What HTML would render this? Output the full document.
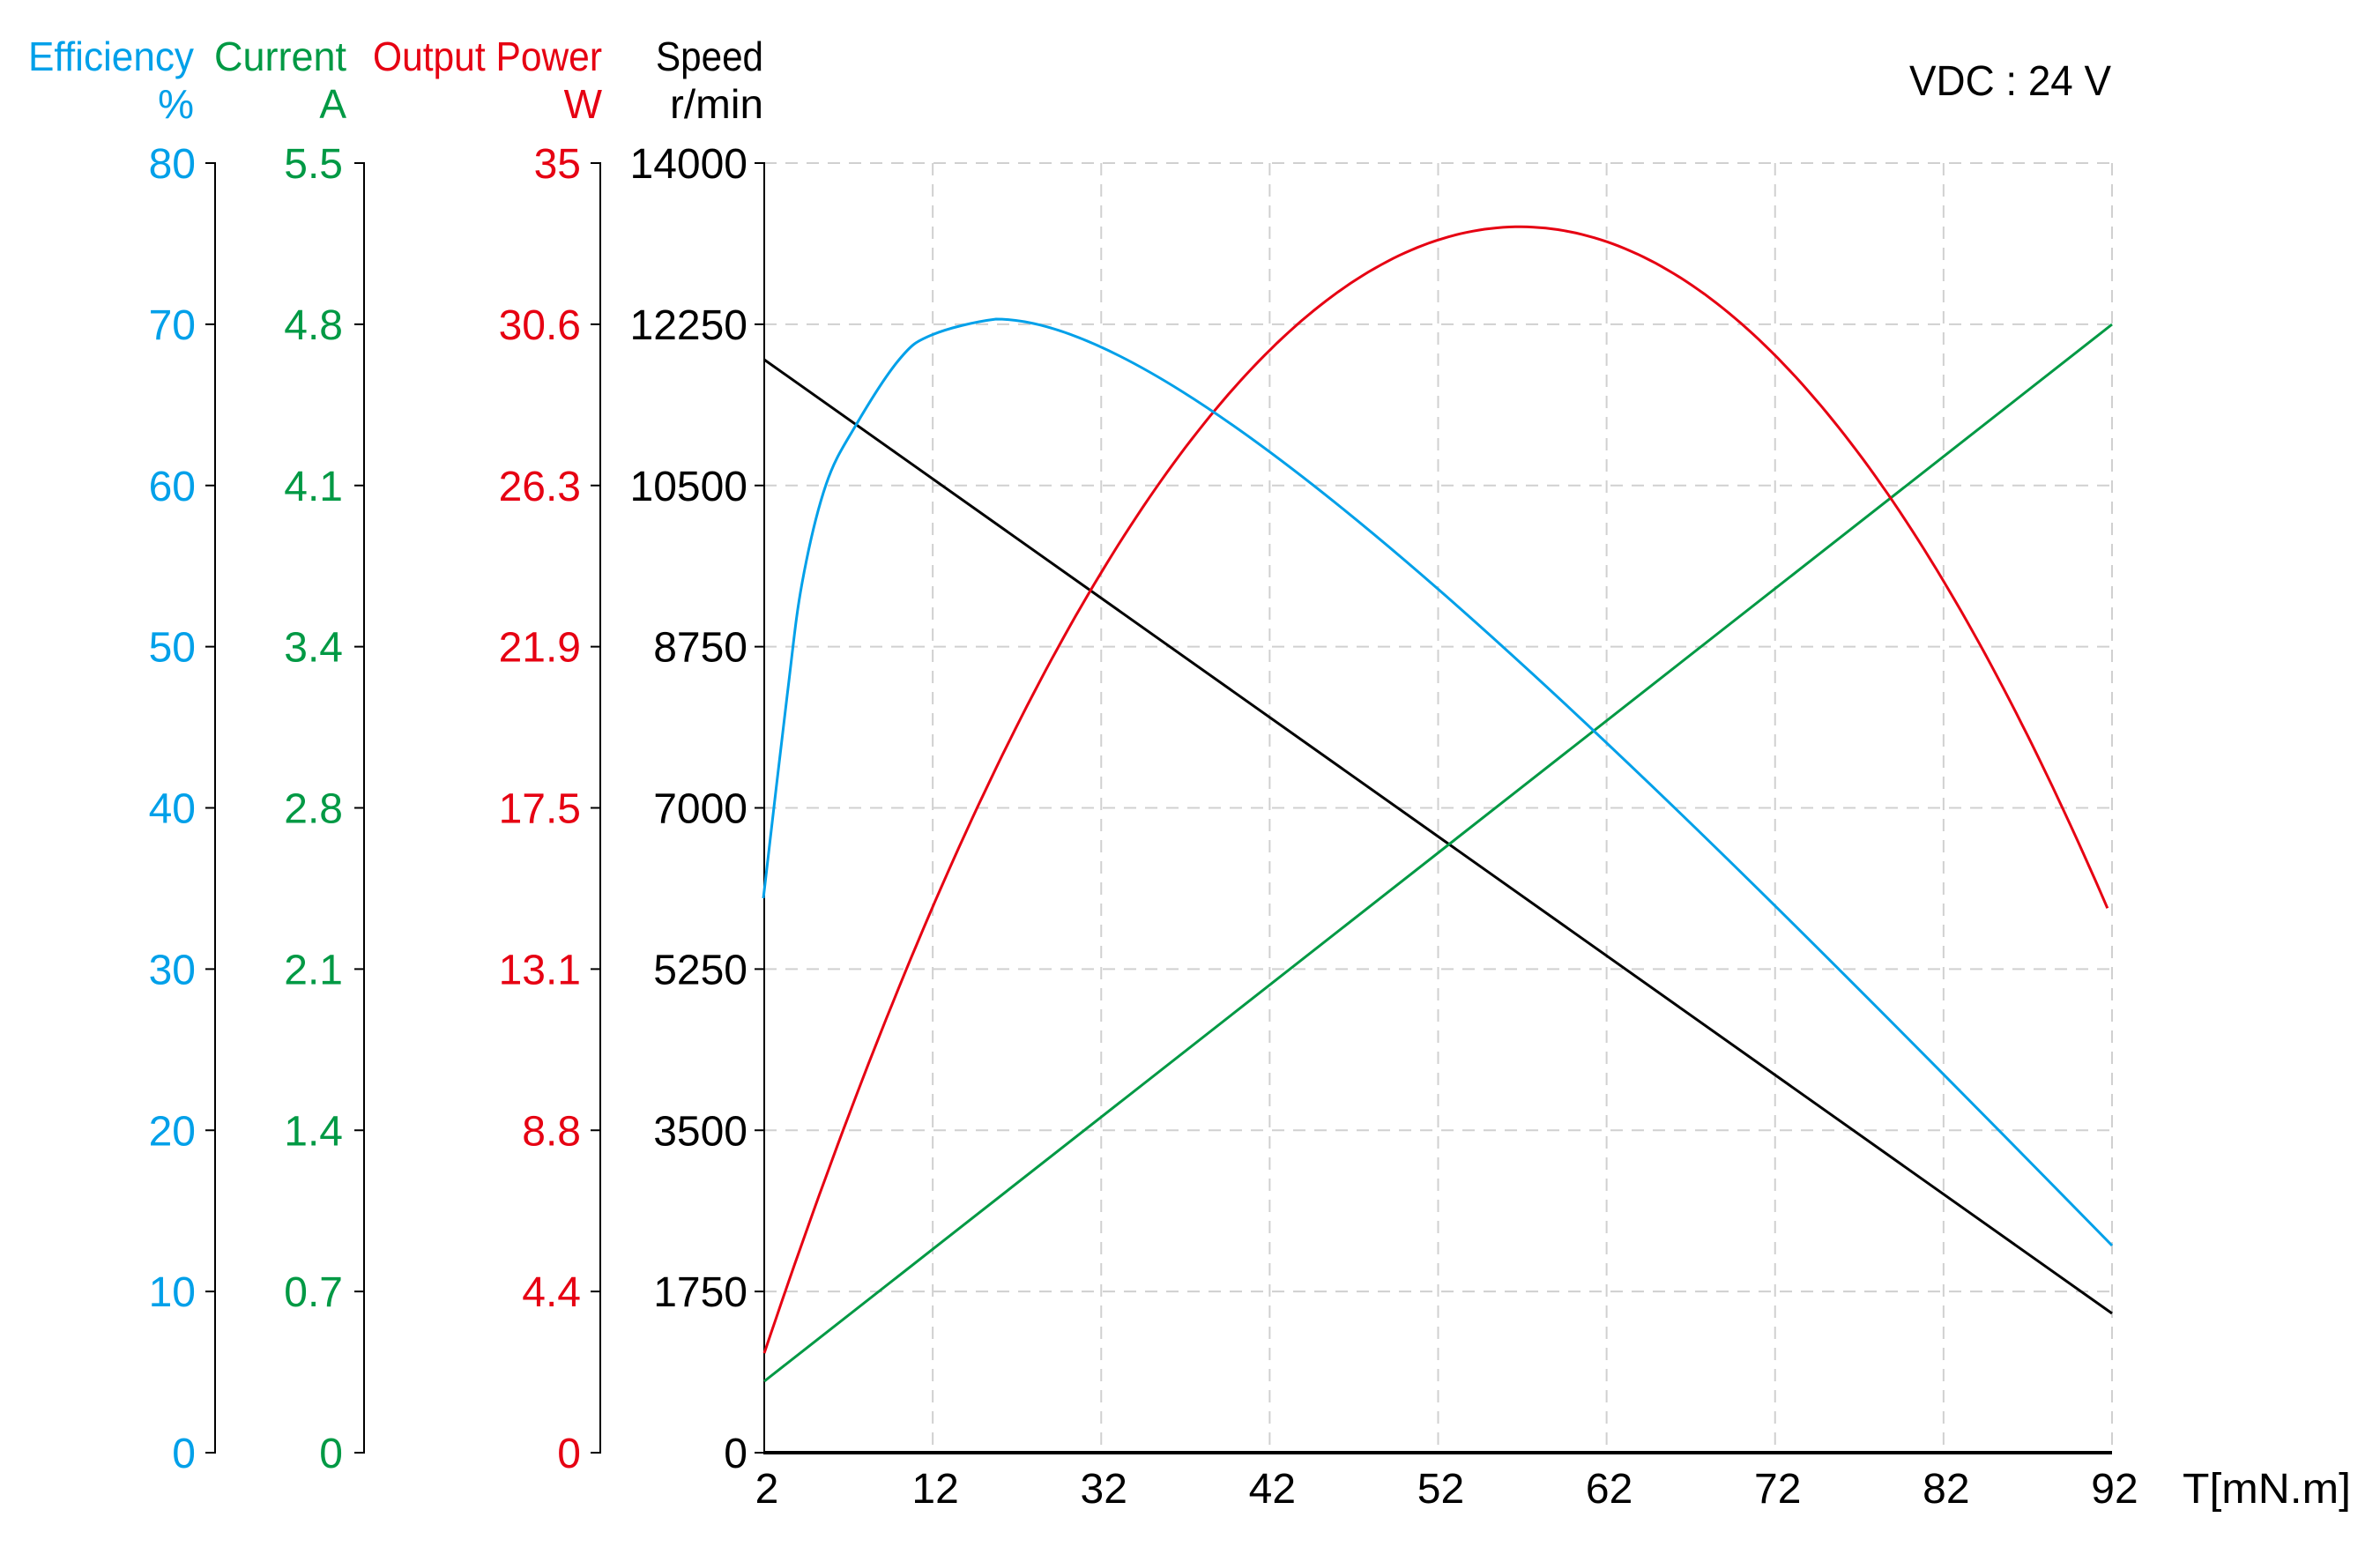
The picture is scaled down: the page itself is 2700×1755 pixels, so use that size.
<!DOCTYPE html>
<html><head><meta charset="utf-8"><style>html,body{margin:0;padding:0;background:#fff}svg{display:block}</style></head>
<body>
<svg id="s" width="2700" height="1755" xmlns="http://www.w3.org/2000/svg" font-family="Liberation Sans, sans-serif">
<g id="grid" stroke="#d0d0d0" stroke-width="2" stroke-dasharray="14,10" fill="none"></g>
<g id="axes" stroke="#000" stroke-width="2" fill="none"></g>
<g id="labels" font-size="48"></g>
<g font-size="46" text-anchor="end">
<text x="220" y="80" fill="#00a0e9" textLength="188" lengthAdjust="spacingAndGlyphs">Efficiency</text>
<text x="220" y="134" fill="#00a0e9">%</text>
<text x="393" y="80" fill="#009944" textLength="150" lengthAdjust="spacingAndGlyphs">Current</text>
<text x="393" y="134" fill="#009944">A</text>
<text x="683" y="80" fill="#e60012" textLength="260" lengthAdjust="spacingAndGlyphs">Output Power</text>
<text x="683" y="134" fill="#e60012">W</text>
<text x="866" y="80" fill="#000" textLength="122" lengthAdjust="spacingAndGlyphs">Speed</text>
<text x="866" y="134" fill="#000" textLength="106" lengthAdjust="spacingAndGlyphs">r/min</text>
</g>
<text x="2166" y="108" font-size="48" textLength="229" lengthAdjust="spacingAndGlyphs">VDC : 24 V</text>
<text x="2476" y="1705" font-size="48" textLength="191" lengthAdjust="spacingAndGlyphs">T[mN.m]</text>
<g id="series" fill="none" stroke-width="3"></g>
</svg>
<script>
var NS="http://www.w3.org/2000/svg";
function el(p,t,a,txt){var e=document.createElementNS(NS,t);for(var k in a)e.setAttribute(k,a[k]);if(txt!==undefined)e.textContent=txt;document.getElementById(p).appendChild(e);return e;}
var L=867,R=2396,T=185,B=1648,step=(B-T)/8,xs=(R-L)/8;
for(var i=0;i<8;i++){var y=T+i*step;el("grid","line",{x1:L,y1:y,x2:R,y2:y});}
for(var i=1;i<=8;i++){var x=L+i*xs;el("grid","line",{x1:x,y1:T,x2:x,y2:B});}
var ax=[[244,222,"#00a0e9",["80","70","60","50","40","30","20","10","0"]],
[413,389,"#009944",["5.5","4.8","4.1","3.4","2.8","2.1","1.4","0.7","0"]],
[681,659,"#e60012",["35","30.6","26.3","21.9","17.5","13.1","8.8","4.4","0"]],
[867,848,"#000",["14000","12250","10500","8750","7000","5250","3500","1750","0"]]];
ax.forEach(function(a){
 el("axes","line",{x1:a[0],y1:T-1,x2:a[0],y2:B+1});
 for(var i=0;i<9;i++){var y=T+i*step;el("axes","line",{x1:a[0]-11,y1:y,x2:a[0],y2:y});
 el("labels","text",{x:a[1],y:y+17,"text-anchor":"end",fill:a[2]},a[3][i]);}
});
el("axes","line",{x1:L-1,y1:B,x2:R,y2:B,"stroke-width":"4"});
var xl=["2","12","32","42","52","62","72","82","92"];
for(var i=0;i<9;i++){el("labels","text",{x:L+i*xs+3,y:1705,"text-anchor":"middle",fill:"#000"},xl[i]);}
el("series","line",{x1:867,y1:408,x2:2396,y2:1490,stroke:"#000"});
el("series","line",{x1:867,y1:1567,x2:2396,y2:368,stroke:"#009944"});
var pts=[];for(var px=503;px<=1386;px+=4){var py=149+0.00303*(px-998)*(px-998);pts.push([867+(px-503)*1.7316,185+(py-107)*1.7212]);}
el("series","polyline",{points:pts.map(function(p){return p[0].toFixed(1)+","+p[1].toFixed(1)}).join(" "),stroke:"#e60012"});
var b=[[866,1019],[893,789],[910,661],[937,550],[970,484],[1020,408],[1057,380],[1130,362],[1203,362]];
var d="M"+b[0][0]+","+b[0][1];
for(var i=0;i<b.length-2;i++){var p0=b[Math.max(i-1,0)],p1=b[i],p2=b[i+1],p3=b[i+2];
 var c1=[p1[0]+(p2[0]-p0[0])/6,p1[1]+(p2[1]-p0[1])/6],c2=[p2[0]-(p3[0]-p1[0])/6,p2[1]-(p3[1]-p1[1])/6];
 d+=" C"+c1.join(",")+" "+c2.join(",")+" "+p2.join(",");}
d+=" C1352,362 1825,830 2396,1413";
el("series","path",{d:d,stroke:"#00a0e9"});
</script>
</body></html>
